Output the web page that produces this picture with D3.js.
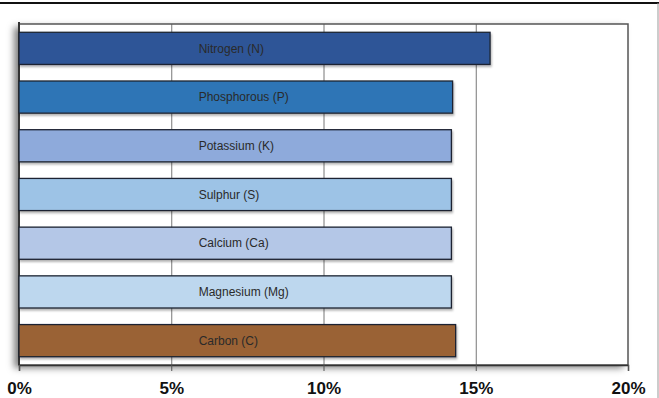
<!DOCTYPE html>
<html>
<head>
<meta charset="utf-8">
<script src="https://cdn.jsdelivr.net/npm/d3@7"></script>
<style>
  html, body { margin: 0; padding: 0; background: #fff; }
  svg { display: block; }
</style>
</head>
<body>
<svg id="chart" width="659" height="398"></svg>
<script>
// Nutrient shares (percent)
const nutrients = ["Nitrogen (N)", "Phosphorous (P)", "Potassium (K)", "Sulphur (S)", "Calcium (Ca)", "Magnesium (Mg)", "Carbon (C)"];
const shares = [15.47, 14.24, 14.2, 14.2, 14.2, 14.2, 14.34];
const barColors = ["#2F5597", "#2E75B6", "#8EAADB", "#9DC3E6", "#B4C7E7", "#BDD7EE", "#9A6234"];
const xTicks = [0, 5, 10, 15, 20];

const svg = d3.select("#chart");
const W = 659, H = 398;
const plot = { left: 19, right: 628, top: 24, bottom: 365 };

const x = d3.scaleLinear().domain([0, 20]).range([plot.left, plot.right]);
const y = d3.scaleBand().domain(nutrients).range([plot.top, plot.bottom]).paddingInner(0.34).paddingOuter(0.17);

const defs = svg.append("defs");
const frameShadow = defs.append("filter").attr("id", "frameShadow")
  .attr("x", "-10%").attr("y", "-10%").attr("width", "120%").attr("height", "120%");
frameShadow.append("feDropShadow").attr("dx", -5).attr("dy", 3).attr("stdDeviation", 3.5)
  .attr("flood-color", "#000").attr("flood-opacity", 0.5);
const barShadow = defs.append("filter").attr("id", "barShadow")
  .attr("x", "-5%").attr("y", "-20%").attr("width", "110%").attr("height", "150%");
barShadow.append("feDropShadow").attr("dx", 1).attr("dy", 2).attr("stdDeviation", 1.2)
  .attr("flood-color", "#000").attr("flood-opacity", 0.3);

// Outer page frame
svg.append("line").attr("x1", 0).attr("x2", W).attr("y1", 3).attr("y2", 3)
  .attr("stroke", "#111").attr("stroke-width", 2);
svg.append("line").attr("x1", 658).attr("x2", 658).attr("y1", 3).attr("y2", H)
  .attr("stroke", "#999").attr("stroke-width", 1);

// Plot area with shadow
svg.append("rect")
  .attr("x", plot.left).attr("y", plot.top)
  .attr("width", plot.right - plot.left).attr("height", plot.bottom - plot.top)
  .attr("fill", "#fff").attr("filter", "url(#frameShadow)");

// Vertical gridlines
svg.append("g").selectAll("line").data(xTicks.slice(1, -1)).join("line")
  .attr("x1", d => x(d) + 0.5).attr("x2", d => x(d) + 0.5)
  .attr("y1", plot.top).attr("y2", plot.bottom)
  .attr("stroke", "#777").attr("stroke-width", 1);

// Plot frame
svg.append("rect")
  .attr("x", plot.left).attr("y", plot.top)
  .attr("width", plot.right - plot.left).attr("height", plot.bottom - plot.top)
  .attr("fill", "none").attr("stroke", "#555").attr("stroke-width", 1.5);
svg.append("line").attr("x1", plot.left).attr("x2", plot.left)
  .attr("y1", plot.top - 2).attr("y2", plot.bottom)
  .attr("stroke", "#333").attr("stroke-width", 2);

// Bars
svg.append("g").selectAll("rect").data(nutrients).join("rect")
  .attr("x", x(0))
  .attr("y", d => y(d))
  .attr("width", (d, i) => x(shares[i]) - x(0))
  .attr("height", y.bandwidth())
  .attr("fill", (d, i) => barColors[i])
  .attr("stroke", "#1d2330").attr("stroke-width", 1.3)
  .attr("filter", "url(#barShadow)");

// Bar labels
svg.append("g").selectAll("text").data(nutrients).join("text")
  .attr("x", x(5.9))
  .attr("y", d => y(d) + y.bandwidth() / 2)
  .attr("dy", "0.35em")
  .attr("font-family", "Liberation Sans, Arial, sans-serif")
  .attr("font-size", 12)
  .attr("fill", "#2a2a2a")
  .text(d => d);

// X axis
const axis = d3.axisBottom(x).tickValues(xTicks).tickFormat(d => d + "%").tickSize(6).tickPadding(11);
const gx = svg.append("g").attr("transform", `translate(0,${plot.bottom})`).call(axis);
gx.select(".domain").attr("stroke", "#333").attr("stroke-width", 1.5);
gx.selectAll(".tick line").attr("stroke", "#555");
gx.selectAll(".tick text")
  .attr("font-family", "Liberation Sans, Arial, sans-serif")
  .attr("font-size", 17).attr("font-weight", "bold").attr("fill", "#111");
</script>
</body>
</html>
